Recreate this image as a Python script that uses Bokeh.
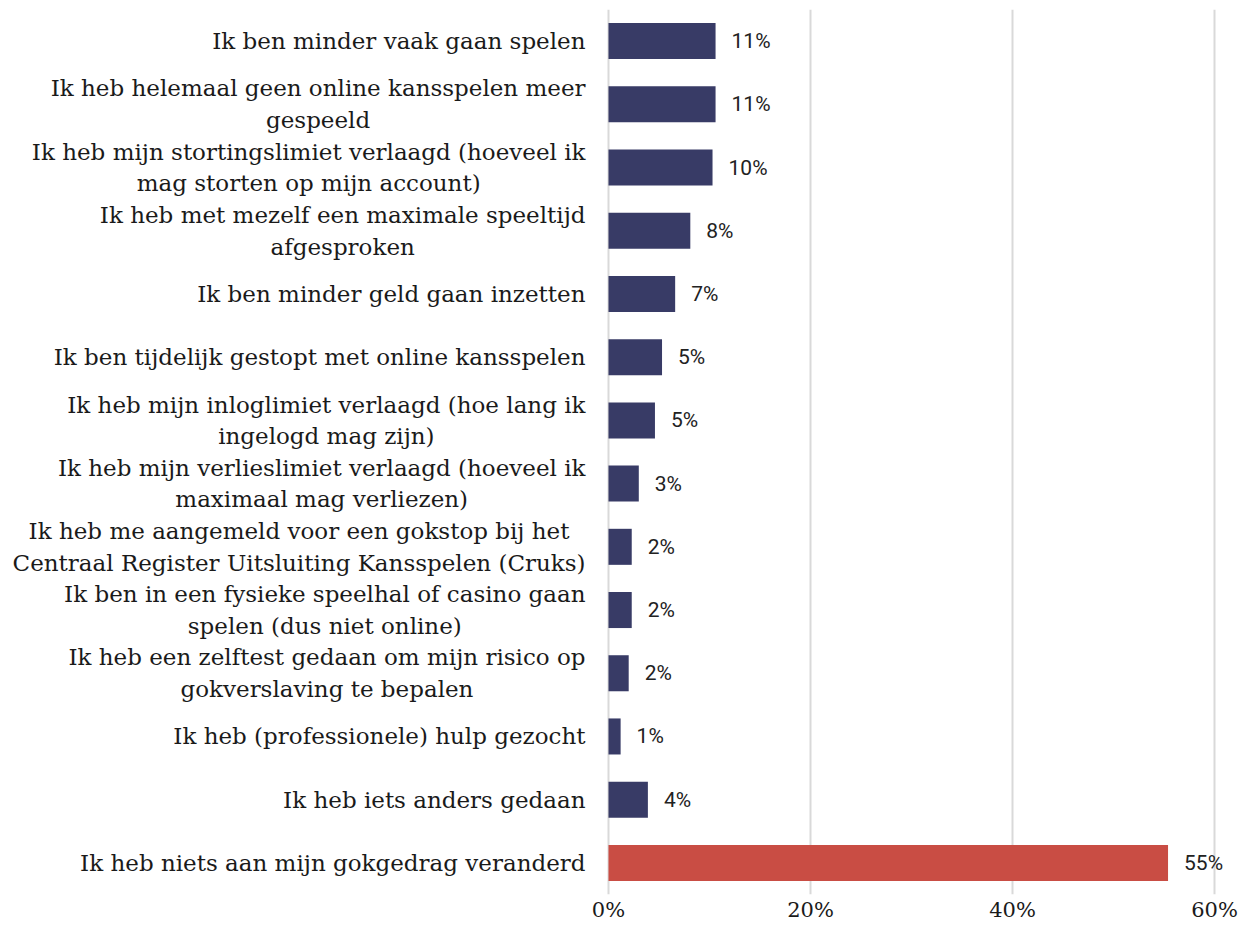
from bokeh.plotting import figure
from bokeh.models import FactorRange, Range1d, FixedTicker, ColumnDataSource
from bokeh.core.properties import value
from bokeh.embed import file_html
from bokeh.resources import INLINE

categories = [
    "Ik ben minder vaak gaan spelen",
    "Ik heb helemaal geen online kansspelen meer\ngespeeld",
    "Ik heb mijn stortingslimiet verlaagd (hoeveel ik\nmag storten op mijn account)",
    "Ik heb met mezelf een maximale speeltijd\nafgesproken",
    "Ik ben minder geld gaan inzetten",
    "Ik ben tijdelijk gestopt met online kansspelen",
    "Ik heb mijn inloglimiet verlaagd (hoe lang ik\ningelogd mag zijn)",
    "Ik heb mijn verlieslimiet verlaagd (hoeveel ik\nmaximaal mag verliezen)",
    "Ik heb me aangemeld voor een gokstop bij het\nCentraal Register Uitsluiting Kansspelen (Cruks)",
    "Ik ben in een fysieke speelhal of casino gaan\nspelen (dus niet online)",
    "Ik heb een zelftest gedaan om mijn risico op\ngokverslaving te bepalen",
    "Ik heb (professionele) hulp gezocht",
    "Ik heb iets anders gedaan",
    "Ik heb niets aan mijn gokgedrag veranderd",
]
values = [10.6, 10.6, 10.3, 8.1, 6.6, 5.3, 4.6, 3.0, 2.3, 2.3, 2.0, 1.2, 3.9, 55.4]
x_ticks = [0, 20, 40, 60]
tick_labels = ["0%", "20%", "40%", "60%"]

NAVY = "#383B66"
RED = "#C94D44"
colors = [NAVY] * (len(categories) - 1) + [RED]
value_labels = [f"{round(v)}%" for v in values]

W, H = 1239, 924
zero_px = 608
px_per_unit = 10.1
frame_w = 1237
x_start = -zero_px / px_per_unit
x_end = x_start + frame_w / px_per_unit

src = ColumnDataSource(dict(cat=categories, val=values, color=colors,
                            lbl=value_labels, zero=[0] * len(categories)))

p = figure(width=W, height=H,
           y_range=FactorRange(factors=categories[::-1]),
           x_range=Range1d(x_start, x_end),
           output_backend="svg", toolbar_location=None,
           y_axis_location=None,
           min_border_left=0, min_border_right=W - frame_w, min_border_top=9, min_border_bottom=27)
p.outline_line_color = None
p.background_fill_color = "white"

p.hbar(y="cat", left=0, right="val", height=0.57, fill_color="color", line_color=None, source=src)

p.text(x="val", y="cat", text="lbl", x_offset=16, text_align="left", text_baseline="middle",
       text_font=value("Roboto"), text_font_size="21px", text_color="#222222", source=src)

p.text(x="zero", y="cat", text="cat", x_offset=-23, anchor="center_right", text_align="center",
       text_baseline="middle", text_line_height=1.22,
       text_font=value("DejaVu Serif"), text_font_size="23px", text_color="#1a1a1a", source=src)

p.xgrid.ticker = FixedTicker(ticks=x_ticks)
p.xgrid.grid_line_color = "#d9d9d9"
p.xgrid.grid_line_width = 2
p.ygrid.visible = False

p.xaxis.ticker = FixedTicker(ticks=x_ticks)
p.xaxis.major_label_overrides = dict(zip(x_ticks, tick_labels))
p.xaxis.axis_line_color = None
p.xaxis.major_tick_line_color = None
p.xaxis.minor_tick_line_color = None
p.xaxis.major_tick_out = 0
p.xaxis.major_tick_in = 0
p.xaxis.major_label_standoff = 3
p.xaxis.major_label_text_font = "DejaVu Serif"
p.xaxis.major_label_text_font_size = "21px"
p.xaxis.major_label_text_color = "#1a1a1a"

open("out.html", "w").write(file_html(p, INLINE))
